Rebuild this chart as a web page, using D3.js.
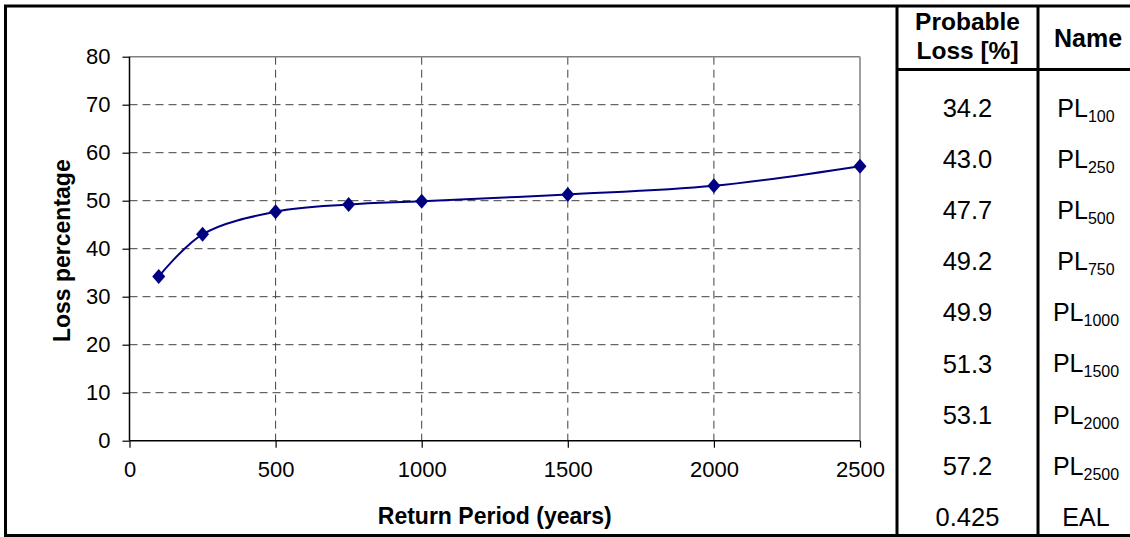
<!DOCTYPE html>
<html>
<head>
<meta charset="utf-8">
<script src="https://cdn.jsdelivr.net/npm/d3@7"></script>
<style>
  html, body { margin: 0; padding: 0; background: #fff; }
  svg { display: block; font-family: "Liberation Sans", Arial, sans-serif; }
</style>
</head>
<body>
<svg id="chart" width="1130" height="537"></svg>
<script>
// ---- data ----
const returnPeriods = [100, 250, 500, 750, 1000, 1500, 2000, 2500];
const lossValues = [34.2, 43.0, 47.7, 49.2, 49.9, 51.3, 53.1, 57.2];
const xTicks = [0, 500, 1000, 1500, 2000, 2500];
const yTicks = [0, 10, 20, 30, 40, 50, 60, 70, 80];
const eal = "0.425";
const headerLoss = ["Probable", "Loss [%]"];
const headerName = "Name";
const xTitle = "Return Period (years)";
const yTitle = "Loss percentage";

// ---- layout ----
const svg = d3.select("#chart");
const W = 1130, H = 537;
const plot = { left: 129.5, right: 860, top: 56.7, bottom: 440.7 };
const navy = "#000080";
const gridColor = "#404040";

const x = d3.scaleLinear().domain([0, 2500]).range([plot.left, plot.right]);
const y = d3.scaleLinear().domain([0, 80]).range([plot.bottom, plot.top]);

// gridlines
const g = svg.append("g");
g.selectAll(".hgrid").data(yTicks.filter(d => d > 0 && d < 80)).join("line")
  .attr("x1", plot.left).attr("x2", plot.right)
  .attr("y1", d => y(d)).attr("y2", d => y(d))
  .attr("stroke", gridColor).attr("stroke-width", 1).attr("stroke-dasharray", "8,5");
g.selectAll(".vgrid").data(xTicks.filter(d => d > 0 && d < 2500)).join("line")
  .attr("y1", plot.top).attr("y2", plot.bottom)
  .attr("x1", d => x(d)).attr("x2", d => x(d))
  .attr("stroke", gridColor).attr("stroke-width", 1).attr("stroke-dasharray", "8,5");
// plot border (top, right) gray
g.append("line").attr("x1", plot.left).attr("x2", plot.right).attr("y1", y(80)).attr("y2", y(80))
  .attr("stroke", "#808080").attr("stroke-width", 1.5);
g.append("line").attr("x1", x(2500)).attr("x2", x(2500)).attr("y1", plot.top).attr("y2", plot.bottom)
  .attr("stroke", "#808080").attr("stroke-width", 1.5);

// axes
const yAxis = d3.axisLeft(y).tickValues(yTicks).tickSize(7).tickPadding(12).tickFormat(d3.format("d"));
const xAxis = d3.axisBottom(x).tickValues(xTicks).tickSize(7).tickPadding(14).tickFormat(d3.format("d"));
const ya = svg.append("g").attr("transform", `translate(${plot.left},0)`).call(yAxis);
const xa = svg.append("g").attr("transform", `translate(0,${plot.bottom})`).call(xAxis);
[ya, xa].forEach(a => {
  a.select(".domain").attr("stroke", "#000").attr("stroke-width", 1.5);
  a.selectAll(".tick line").attr("stroke", "#000").attr("stroke-width", 1.2);
  a.selectAll(".tick text").attr("fill", "#000").style("font-size", "22px")
    .style("font-family", "'Liberation Sans', Arial, sans-serif");
});
ya.select(".domain").attr("d", `M0,${plot.bottom}V${plot.top}`);
xa.select(".domain").attr("d", `M${plot.left},0H${plot.right}`);

// axis titles
svg.append("text").attr("x", (plot.left + plot.right) / 2).attr("y", 524)
  .attr("text-anchor", "middle").style("font-size", "23px").style("font-weight", "bold")
  .text(xTitle);
svg.append("text").attr("transform", `translate(70,${(plot.top + plot.bottom) / 2 + 2}) rotate(-90)`)
  .attr("text-anchor", "middle").style("font-size", "23px").style("font-weight", "bold")
  .text(yTitle);

// line
const pts = returnPeriods.map((r, i) => [r, lossValues[i]]);
const line = d3.line().x(d => x(d[0])).y(d => y(d[1])).curve(d3.curveCatmullRom.alpha(0.5));
svg.append("path").datum(pts).attr("d", line).attr("fill", "none")
  .attr("stroke", navy).attr("stroke-width", 2);
// diamond markers
const hw = 6.5, hh = 7.5;
svg.selectAll(".mk").data(pts).join("path")
  .attr("d", d => {
    const cx = x(d[0]), cy = y(d[1]);
    return `M${cx},${cy - hh}L${cx + hw},${cy}L${cx},${cy + hh}L${cx - hw},${cy}Z`;
  })
  .attr("fill", navy);

// ---- table ----
const colLeft = 897, colDiv = 1038, colRight = W;
const c1 = (colLeft + colDiv) / 2, c2 = (colDiv + colRight) / 2 + 2;
const rowLabels = returnPeriods.map(String).concat(["EAL"]);
const ry = d3.scalePoint().domain(d3.range(rowLabels.length)).range([108, 517]);

const tbl = svg.append("g");
tbl.selectAll(".val").data(lossValues.map(v => d3.format(".1f")(v)).concat([eal])).join("text")
  .attr("x", c1).attr("y", (d, i) => ry(i)).attr("dy", "0.35em")
  .attr("text-anchor", "middle").style("font-size", "25.5px").text(d => d);
const nm = tbl.selectAll(".nm").data(rowLabels).join("text")
  .attr("x", c2).attr("y", (d, i) => ry(i)).attr("dy", "0.35em")
  .attr("text-anchor", "middle").style("font-size", "25px");
nm.each(function(d) {
  const t = d3.select(this);
  if (d === "EAL") { t.text("EAL"); return; }
  t.append("tspan").text("PL");
  t.append("tspan").attr("dy", 5).style("font-size", "16px").text(d);
});
// headers
tbl.selectAll(".hd").data(headerLoss).join("text")
  .attr("x", c1).attr("y", (d, i) => 21.5 + i * 29).attr("dy", "0.35em")
  .attr("text-anchor", "middle").style("font-size", "24.5px").style("font-weight", "bold").text(d => d);
tbl.append("text").attr("x", c2 + 2).attr("y", 38).attr("dy", "0.35em")
  .attr("text-anchor", "middle").style("font-size", "25px").style("font-weight", "bold").text(headerName);

// frame lines
const bw = 3;
const frame = [
  [4, 6, W, 6],           // top
  [5.5, 5, 5.5, H],       // left
  [4, 535.5, W, 535.5],   // bottom
  [colLeft, 5, colLeft, H],
  [colDiv, 5, colDiv, H],
  [colLeft, 69.5, W, 69.5]
];
svg.selectAll(".fr").data(frame).join("line")
  .attr("x1", d => d[0]).attr("y1", d => d[1]).attr("x2", d => d[2]).attr("y2", d => d[3])
  .attr("stroke", "#000").attr("stroke-width", bw);
</script>
</body>
</html>
